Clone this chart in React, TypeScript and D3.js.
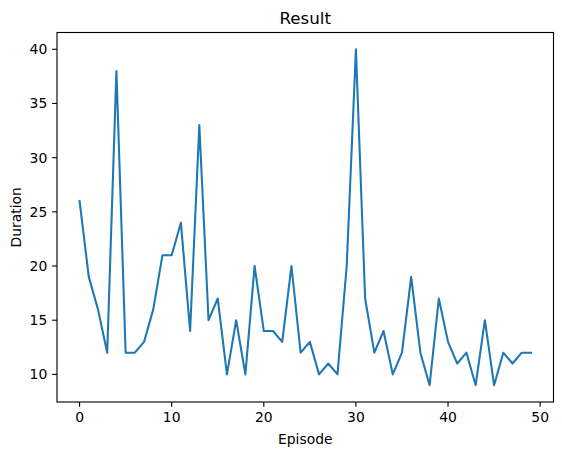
import React from "react";
import * as d3 from "d3";

const episodes: number[] = Array.from({ length: 50 }, (_, i) => i);
const durations: number[] = [
  26, 19, 16, 12, 38, 12, 12, 13, 16, 21,
  21, 24, 14, 33, 15, 17, 10, 15, 10, 20,
  14, 14, 13, 20, 12, 13, 10, 11, 10, 20,
  40, 17, 12, 14, 10, 12, 19, 12, 9, 17,
  13, 11, 12, 9, 15, 9, 12, 11, 12, 12,
];
const xTicks: number[] = [0, 10, 20, 30, 40, 50];
const yTicks: number[] = [10, 15, 20, 25, 30, 35, 40];
const title = "Result";
const xLabel = "Episode";
const yLabel = "Duration";

const W = 562;
const H = 455;
const left = 57;
const right = 553.5;
const top = 32.5;
const bottom = 402;
const font = "DejaVu Sans, sans-serif";
const fs = 13.9;

export default function App() {
  const xMin = d3.min(episodes)!;
  const xMax = d3.max(episodes)!;
  const xPad = (xMax - xMin) * 0.05;
  const yMin = d3.min(durations)!;
  const yMax = d3.max(durations)!;
  const yPad = (yMax - yMin) * 0.05;
  const x = d3.scaleLinear().domain([xMin - xPad, xMax + xPad]).range([left, right]);
  const y = d3.scaleLinear().domain([yMin - yPad, yMax + yPad]).range([bottom, top]);
  const line = d3
    .line<number>()
    .x((_, i) => x(episodes[i]))
    .y((d) => y(d));
  const tl = 4.86;
  const pad = 4.86;
  return (
    <svg
      width={W}
      height={H}
      style={{ position: "absolute", left: 0, top: 0, background: "#fff" }}
      fontFamily={font}
    >
      <rect x={0} y={0} width={W} height={H} fill="#fff" />
      <path d={line(durations)!} fill="none" stroke="#1f77b4" strokeWidth={2.08} strokeLinejoin="round" strokeLinecap="square" />
      <rect x={left} y={top} width={right - left} height={bottom - top} fill="none" stroke="#000" strokeWidth={1.11} />
      {xTicks.map((t) => (
        <g key={"x" + t}>
          <line x1={x(t)} x2={x(t)} y1={bottom} y2={bottom + tl} stroke="#000" strokeWidth={1.11} />
          <text x={x(t)} y={bottom + tl + pad} dy="0.76em" textAnchor="middle" fontSize={fs} fill="#000">
            {t}
          </text>
        </g>
      ))}
      {yTicks.map((t) => (
        <g key={"y" + t}>
          <line x1={left - tl} x2={left} y1={y(t)} y2={y(t)} stroke="#000" strokeWidth={1.11} />
          <text x={left - tl - pad} y={y(t)} dy="0.36em" textAnchor="end" fontSize={fs} fill="#000">
            {t}
          </text>
        </g>
      ))}
      <text x={(left + right) / 2} y={top - 8.5} textAnchor="middle" fontSize={16.7} fill="#000">
        {title}
      </text>
      <text x={(left + right) / 2} y={443.5} textAnchor="middle" fontSize={fs} fill="#000">
        {xLabel}
      </text>
      <text
        transform={`translate(${20.5},${(top + bottom) / 2}) rotate(-90)`}
        textAnchor="middle"
        fontSize={fs}
        fill="#000"
      >
        {yLabel}
      </text>
    </svg>
  );
}
